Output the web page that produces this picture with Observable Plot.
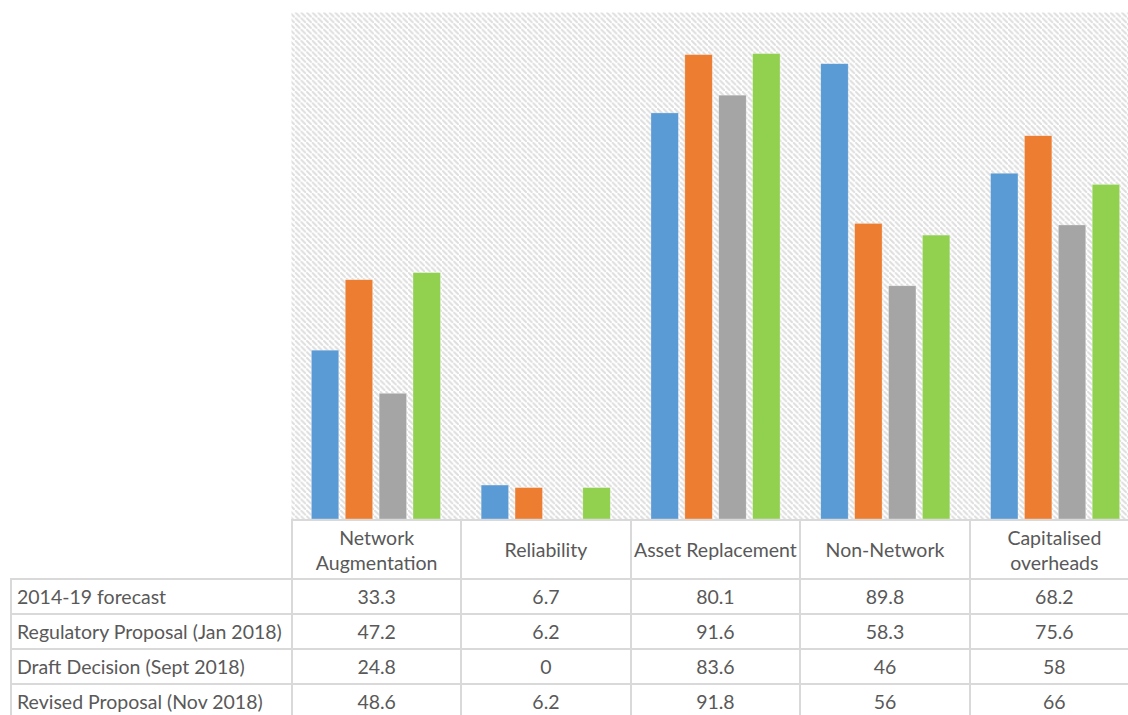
<!DOCTYPE html>
<html><head><meta charset="utf-8">
<script src="https://cdn.jsdelivr.net/npm/d3@7"></script>
<script src="https://cdn.jsdelivr.net/npm/@observablehq/plot@0.6"></script>
<style>
html,body{margin:0;padding:0;background:#fff;overflow:hidden;}
#wrap{width:1140px;}
#wrap svg{display:block;}
table{border-collapse:collapse;font-family:Lato, "Open Sans", sans-serif;font-size:19.5px;color:#595959;table-layout:fixed;margin-left:10px;}
td{border:2px solid #d9d9d9;text-align:center;height:33px;padding:0;white-space:nowrap;overflow:hidden;}
td.lab{text-align:left;padding-left:5px;}
tr.head td{height:57px;line-height:25px;}
tr.head td.blank{border-top:none;border-left:none;}
</style></head><body><div id="wrap"></div>
<script>
const categories = ["Network Augmentation","Reliability","Asset Replacement","Non-Network","Capitalised overheads"];
const headerLines = [["Network","Augmentation"],["Reliability"],["Asset Replacement"],["Non-Network"],["Capitalised","overheads"]];
const seriesNames = ["2014-19 forecast","Regulatory Proposal (Jan 2018)","Draft Decision (Sept 2018)","Revised Proposal (Nov 2018)"];
const forecast2014 = [33.3, 6.7, 80.1, 89.8, 68.2];
const regulatoryProposal = [47.2, 6.2, 91.6, 58.3, 75.6];
const draftDecision = [24.8, 0, 83.6, 46, 58];
const revisedProposal = [48.6, 6.2, 91.8, 56, 66];
const seriesValues = [forecast2014, regulatoryProposal, draftDecision, revisedProposal];
const colors = ["#5B9BD5","#ED7D31","#A5A5A5","#92D050"];

const data = [];
seriesNames.forEach((s, i) => categories.forEach((c, j) => data.push({category: c, series: s, value: seriesValues[i][j]})));

const W = 1140, ML = 291;
const chart = Plot.plot({
  width: W, height: 519,
  marginTop: 12, marginBottom: 0, marginLeft: ML, marginRight: 0,
  fx: {domain: categories, padding: 0, round: false, axis: null},
  x: {domain: seriesNames, paddingInner: 0.19, paddingOuter: 0.6, round: false, axis: null},
  y: {domain: [0, 100], axis: null},
  color: {domain: seriesNames, range: colors},
  marks: [
    Plot.frame({fill: "url(#hatch)", stroke: null}),
    Plot.barY(data, {fx: "category", x: "series", y: "value", fill: "series", stroke: "#fff", strokeWidth: 0.6, strokeOpacity: 0.5})
  ]
});
document.getElementById("wrap").appendChild(chart);

const svg = d3.select(chart.tagName.toLowerCase() === "svg" ? chart : chart.querySelector("svg"));
const w = ((W - ML) / categories.length) / 30;
const pat = svg.insert("defs", ":first-child").append("pattern")
  .attr("id", "hatch").attr("patternUnits", "userSpaceOnUse")
  .attr("width", w).attr("height", w);
pat.append("rect").attr("width", w).attr("height", w).attr("fill", "#fff");
pat.append("path")
  .attr("d", `M-1,-1L1,1M0,0L${w},${w}M${w-1},${w-1}L${w+1},${w+1}`)
  .attr("stroke", "#dedede").attr("stroke-width", 2).attr("fill", "none");

// data table below the chart
const table = d3.select("#wrap").append("table");
const cg = table.append("colgroup");
cg.append("col").style("width", "281px");
categories.forEach(() => cg.append("col").style("width", ((W - ML) / categories.length) + "px"));
const head = table.append("tr").attr("class", "head");
head.append("td").attr("class", "blank");
headerLines.forEach(lines => head.append("td").html(lines.join("<br>")));
seriesNames.forEach((s, i) => {
  const tr = table.append("tr");
  tr.append("td").attr("class", "lab").text(s);
  seriesValues[i].forEach(v => tr.append("td").text(String(v)));
});
</script>
</body></html>
